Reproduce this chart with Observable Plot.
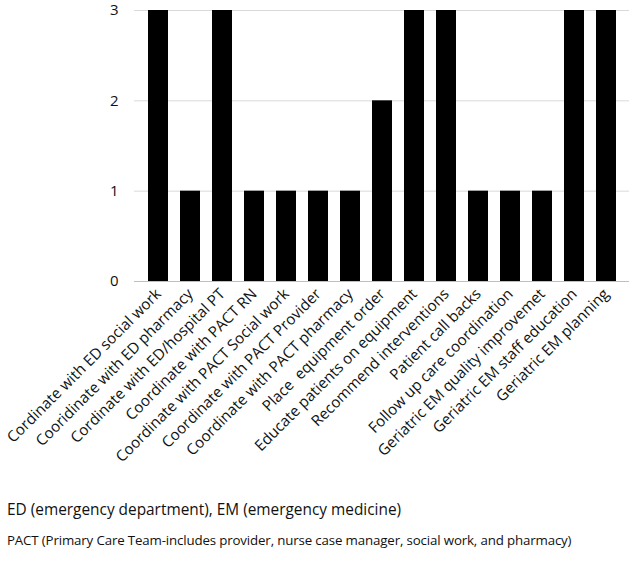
<!DOCTYPE html>
<html>
<head>
<meta charset="utf-8">
<script src="https://cdn.jsdelivr.net/npm/d3@7"></script>
<script src="https://cdn.jsdelivr.net/npm/@observablehq/plot@0.6"></script>
<style>
  html, body { margin: 0; padding: 0; background: #fff; }
  #chart { width: 630px; }
  .cap1 { font-family: "Open Sans", Lato, sans-serif; font-size: 15.4px; color: #111; margin: 15px 0 0 7px; line-height: 20px; }
  .cap2 { font-family: "Open Sans", Lato, sans-serif; font-size: 13.3px; color: #111; margin: 11px 0 0 7px; line-height: 18px; letter-spacing: -0.15px; }
</style>
</head>
<body>
<div id="chart"></div>
<script>
const categories = [
  "Cordinate with ED social work",
  "Cooridinate with ED pharmacy",
  "Cordinate with ED/hospital PT",
  "Coordinate with PACT RN",
  "Coordinate with PACT Social work",
  "Coordinate with PACT Provider",
  "Coordinate with PACT pharmacy",
  "Place  equipment order",
  "Educate patients on equipment",
  "Recommend interventions",
  "Patient call backs",
  "Follow up care coordination",
  "Geriatric EM quality improvemet",
  "Geriatric EM staff education",
  "Geriatric EM planning"
];
const values = [3, 1, 3, 1, 1, 1, 1, 2, 3, 3, 1, 1, 1, 3, 3];
const yTicks = [0, 1, 2, 3];
const captions = [
  "ED (emergency department), EM (emergency medicine)",
  "PACT (Primary Care Team-includes provider, nurse case manager, social work, and pharmacy)"
];

const data = categories.map((c, i) => ({category: c, value: values[i]}));

const plot = Plot.plot({
  width: 630,
  height: 485,
  marginTop: 10,
  marginLeft: 134,
  marginRight: 1,
  marginBottom: 204,
  style: {fontFamily: "'Open Sans', Lato, sans-serif", fontSize: "15.2px", color: "#111", background: "#fff", overflow: "visible"},
  x: {domain: categories, padding: 0.39, label: null},
  y: {domain: [0, 3], label: null},
  marks: [
    Plot.ruleY(yTicks.filter(d => d > 0), {stroke: "#d9d9d9", strokeWidth: 1}),
    Plot.barY(data, {x: "category", y: "value", fill: "#000"}),
    Plot.ruleY([0], {stroke: "#bfbfbf", strokeWidth: 1}),
    Plot.axisY({ticks: yTicks, tickSize: 0, tickPadding: 16, tickFormat: d => String(d), fontSize: 15, label: null}),
    Plot.axisX({tickSize: 0, tickPadding: 10, tickRotate: -45, fontSize: 15.2, label: null})
  ]
});
document.getElementById("chart").appendChild(plot);
const c1 = document.createElement("div"); c1.className = "cap1"; c1.textContent = captions[0];
const c2 = document.createElement("div"); c2.className = "cap2"; c2.textContent = captions[1];
document.body.appendChild(c1);
document.body.appendChild(c2);
</script>
</body>
</html>
